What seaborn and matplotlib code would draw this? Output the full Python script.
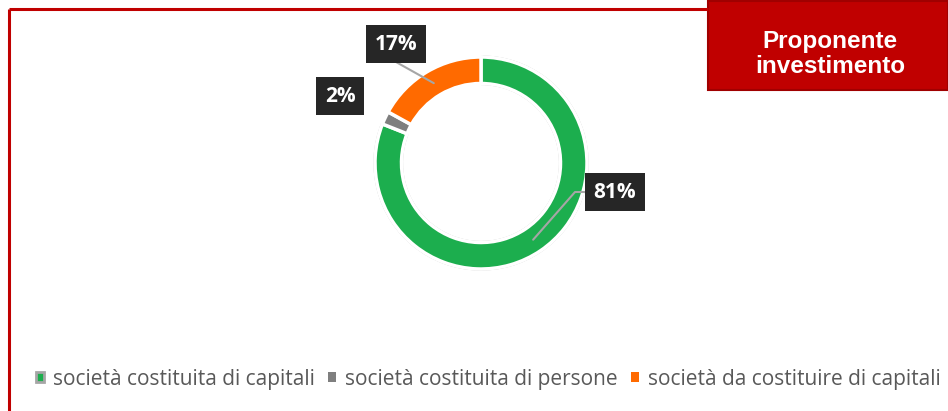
import matplotlib
matplotlib.use("Agg")
import matplotlib.pyplot as plt
import seaborn as sns
import numpy as np
from matplotlib.patches import Rectangle
from matplotlib.lines import Line2D

# ---- data ----
categories = ["società costituita di capitali",
              "società costituita di persone",
              "società da costituire di capitali"]
values = [81, 2, 17]
labels = ["81%", "2%", "17%"]
title_text = "Proponente\ninvestimento"

sns.set_theme(style="white")
plt.rcParams['font.family'] = ['Open Sans', 'DejaVu Sans']

colors = ["#1CAE4E", "#7F7F7F", "#FF6A00"]
RED = "#C00000"

W, H = 948, 411
fig = plt.figure(figsize=(W / 100, H / 100), dpi=100)
fig.patch.set_facecolor("white")

def fx(px):
    return px / W

def fy(py):
    return 1 - py / H

# background/overlay axis in pixel coordinates (drawn above the donut)
bg = fig.add_axes([0, 0, 1, 1])
bg.set_xlim(0, W)
bg.set_ylim(H, 0)
bg.axis("off")
bg.set_zorder(3)
# red frame (top and left)
bg.add_line(Line2D([9, 708], [9, 9], color=RED, lw=2.2, solid_capstyle="butt"))
bg.add_line(Line2D([9, 9], [9, H], color=RED, lw=2.2, solid_capstyle="butt"))
# title box
bg.add_patch(Rectangle((708, 1), W - 708, 89, facecolor=RED, edgecolor="#A00000", lw=1.5))
bg.text(830, 54, title_text, color="white", fontsize=17.5, fontweight="bold",
        family=["Liberation Sans", "DejaVu Sans"], ha="center", va="center",
        linespacing=1.1)

# donut axis
cx, cy, R = 481, 163, 106
pad = 1.05
ax = fig.add_axes([fx(cx - R * pad), fy(cy + R * pad), fx(2 * R * pad), (2 * R * pad) / H])
ax.set_zorder(1)
ring = 0.25
# soft shadow behind the green ring
ax.pie([values[0], sum(values[1:])], colors=["#BDBDBD", "none"], startangle=90,
       counterclock=False, radius=1.015,
       wedgeprops=dict(width=ring + 0.03, edgecolor="none", linewidth=0))
wedges, _ = ax.pie(values, colors=colors, startangle=90, counterclock=False,
                   radius=1.0,
                   wedgeprops=dict(width=ring, edgecolor="white", linewidth=2.5))
ax.set_xlim(-pad, pad)
ax.set_ylim(-pad, pad)
ax.set_aspect("equal")
ax.axis("off")

# data labels
label_pos = [(615, 192), (340, 96), (396, 44)]
fig.canvas.draw()
for i, (w, lab) in enumerate(zip(wedges, labels)):
    mid = np.deg2rad((w.theta1 + w.theta2) / 2)
    r = 1 - ring / 2
    xy = (r * np.cos(mid), r * np.sin(mid))
    tx, ty = label_pos[i]
    bbox = dict(boxstyle="square,pad=0.42", fc="#262626", ec="none")
    bg.text(tx, ty, lab, ha="center", va="center", color="white", fontsize=15,
            fontweight="bold", bbox=bbox, zorder=5)
    # leader line endpoint in bg pixel coords
    dx, dy = ax.transData.transform(xy)
    px, py = bg.transData.inverted().transform((dx, dy))
    if i == 0:
        bg.add_line(Line2D([586, 575, px], [ty, ty, py], color="#A6A6A6", lw=1.5, zorder=4))
    elif i == 2:
        bg.add_line(Line2D([tx, px], [ty + 18, py], color="#A6A6A6", lw=1.5, zorder=4))

# legend
handles = [Rectangle((0, 0), 1, 1, facecolor=c,
                     edgecolor=("#A6A6A6" if i == 0 else "none"), lw=(2.0 if i == 0 else 0))
           for i, c in enumerate(colors)]
leg = fig.legend(handles, categories, loc="center left",
                 bbox_to_anchor=(fx(36), fy(379)), ncol=3, frameon=False,
                 handlelength=0.4, handleheight=0.4, handletextpad=0.4,
                 columnspacing=0.65, fontsize=15, borderaxespad=0, borderpad=0)
for t in leg.get_texts():
    t.set_color("#595959")

fig.savefig("out.png", dpi=100, facecolor="white")
